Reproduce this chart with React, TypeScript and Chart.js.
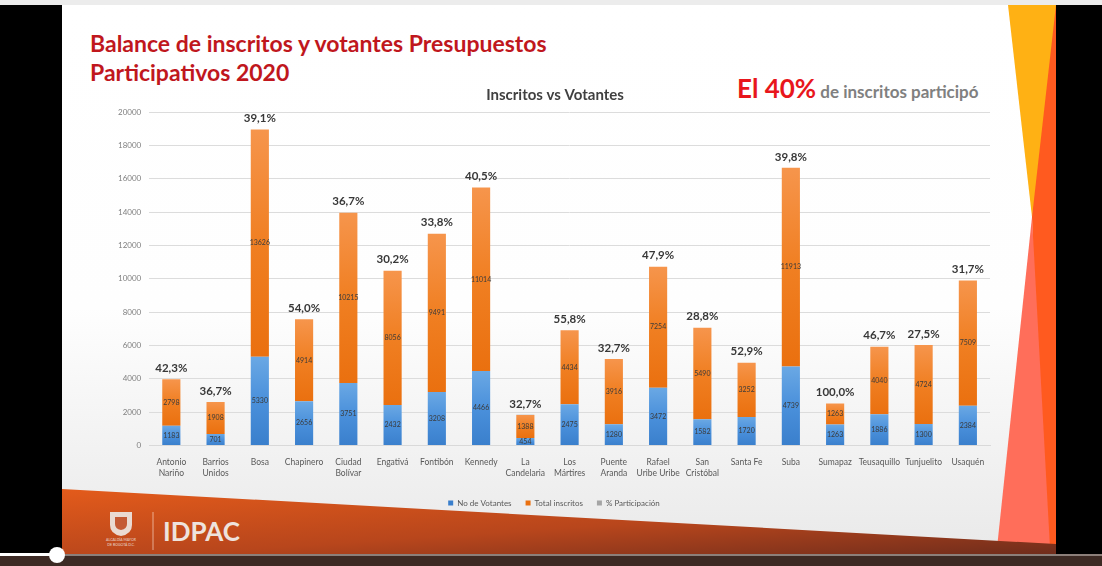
import React, { useEffect, useRef } from "react";
import { Chart, registerables } from "chart.js";

Chart.register(...registerables);

const localidades: string[][] = [
  ["Antonio", "Nariño"], ["Barrios", "Unidos"], ["Bosa"], ["Chapinero"], ["Ciudad", "Bolívar"],
  ["Engativá"], ["Fontibón"], ["Kennedy"], ["La", "Candelaria"], ["Los", "Mártires"],
  ["Puente", "Aranda"], ["Rafael", "Uribe Uribe"], ["San", "Cristóbal"], ["Santa Fe"], ["Suba"],
  ["Sumapaz"], ["Teusaquillo"], ["Tunjuelito"], ["Usaquén"],
];
const noDeVotantes = [1183, 701, 5330, 2656, 3751, 2432, 3208, 4466, 454, 2475, 1280, 3472, 1582, 1720, 4739, 1263, 1886, 1300, 2384];
const totalInscritos = [2798, 1908, 13626, 4914, 10215, 8056, 9491, 11014, 1388, 4434, 3916, 7254, 5490, 3252, 11913, 1263, 4040, 4724, 7509];
const participacion = [0.423, 0.367, 0.391, 0.54, 0.367, 0.302, 0.338, 0.405, 0.327, 0.558, 0.327, 0.479, 0.288, 0.529, 0.398, 1.0, 0.467, 0.275, 0.317];
const seriesNames = ["No de Votantes", "Total inscritos", "% Participación"];
const yMin = 0;
const yMax = 20000;
const yStep = 2000;

const FONT = "Lato, 'Open Sans', sans-serif";

const BLUE_TOP = "#6aa8e4";
const BLUE_BOT = "#3a7fcc";
const OR_TOP = "#f6954c";
const OR_BOT = "#ea700f";

function gradFor(datasetIndex: number, solid: string, top: string, bot: string) {
  return (c: any) => {
    const chart = c.chart;
    const y = chart.scales && chart.scales.y;
    if (!chart.chartArea || !y || c.dataIndex === undefined) return solid;
    const i = c.dataIndex;
    const base = datasetIndex === 0 ? 0 : noDeVotantes[i];
    const end = datasetIndex === 0 ? noDeVotantes[i] : noDeVotantes[i] + totalInscritos[i];
    const y0 = y.getPixelForValue(end);
    const y1 = y.getPixelForValue(base);
    if (!isFinite(y0) || !isFinite(y1) || y0 === y1) return solid;
    const g = chart.ctx.createLinearGradient(0, y0, 0, y1);
    g.addColorStop(0, top);
    g.addColorStop(0.5, solid);
    g.addColorStop(1, bot);
    return g;
  };
}

const labelsPlugin = {
  id: "valueLabels",
  afterLayout(chart: any) {
    if (chart.legend) {
      chart.legend.top += 3;
      chart.legend.bottom += 3;
      chart.legend.left += 4;
      chart.legend.right += 4;
    }
    if (chart.titleBlock) {
      chart.titleBlock.left += 5;
      chart.titleBlock.right += 5;
    }
  },
  afterDatasetsDraw(chart: any) {
    const ctx = chart.ctx;
    ctx.save();
    ctx.textAlign = "center";
    ctx.textBaseline = "middle";
    [0, 1].forEach((di) => {
      const meta = chart.getDatasetMeta(di);
      const values = chart.data.datasets[di].data;
      meta.data.forEach((el: any, i: number) => {
        ctx.font = `7px ${FONT}`;
        ctx.fillStyle = "#3b3b3b";
        ctx.fillText(String(values[i]), el.x, (el.y + el.base) / 2);
      });
    });
    const pm = chart.getDatasetMeta(2);
    pm.data.forEach((el: any, i: number) => {
      const v = participacion[i] * 100;
      ctx.font = `bold 11.5px ${FONT}`;
      ctx.fillStyle = "#383838";
      ctx.fillText(v.toFixed(1).replace(".", ",") + "%", el.x, el.y - 11);
    });
    ctx.restore();
  },
};

export default function App() {
  const ref = useRef<HTMLCanvasElement>(null);
  useEffect(() => {
    document.body.style.margin = "0";
    const canvas = ref.current as HTMLCanvasElement;
    Chart.defaults.font.family = FONT;
    const chart = new Chart(canvas, {
      type: "bar",
      data: {
        labels: localidades as any,
        datasets: [
          {
            label: seriesNames[0],
            data: noDeVotantes,
            backgroundColor: gradFor(0, "#4a90db", BLUE_TOP, BLUE_BOT) as any,
            stack: "s",
            barPercentage: 0.41,
            categoryPercentage: 1,
          },
          {
            label: seriesNames[1],
            data: totalInscritos,
            backgroundColor: gradFor(1, "#f07f22", OR_TOP, OR_BOT) as any,
            stack: "s",
            barPercentage: 0.41,
            categoryPercentage: 1,
          },
          {
            label: seriesNames[2],
            data: participacion,
            backgroundColor: "#a5a5a5",
            stack: "s",
            barPercentage: 0.41,
            categoryPercentage: 1,
          },
        ],
      },
      options: {
        responsive: false,
        animation: false,
        layout: { padding: { left: 10, right: 20, top: 0, bottom: 4 } },
        plugins: {
          title: {
            display: true,
            text: "Inscritos vs Votantes",
            color: "#404040",
            font: { size: 15, weight: "bold", family: FONT },
            padding: { top: 4, bottom: 8 },
          },
          legend: {
            position: "bottom",
            labels: {
              boxWidth: 5,
              boxHeight: 5,
              font: { size: 8, family: FONT },
              color: "#595959",
              padding: 14,
            },
          },
          tooltip: { enabled: false },
        },
        scales: {
          x: {
            stacked: true,
            grid: { display: false },
            border: { color: "#d9d9d9" },
            ticks: {
              font: { size: 8.5, family: FONT },
              color: "#595959",
              maxRotation: 0,
              autoSkip: false,
              padding: 4,
            },
          },
          y: {
            stacked: true,
            min: yMin,
            max: yMax,
            ticks: {
              stepSize: yStep,
              font: { size: 8, family: FONT },
              color: "#7f7f7f",
              padding: 8,
              callback: (v: any) => String(v),
            },
            grid: { color: "#dcdcdc", drawTicks: false },
            border: { display: false },
          },
        },
      },
      plugins: [labelsPlugin],
    } as any);
    return () => chart.destroy();
  }, []);

  return (
    <div style={{ position: "fixed", left: 0, top: 0, width: 1102, height: 566, background: "#000", overflow: "hidden", fontFamily: FONT }}>
      <div style={{ position: "absolute", left: 0, top: 0, width: 1102, height: 5, background: "#ececec" }} />
      <div
        style={{
          position: "absolute", left: 62, top: 5, width: 994, height: 550,
          background: "linear-gradient(to bottom, #ffffff 0%, #fefefe 55%, #e9e9e9 100%)",
        }}
      />
      <svg width={1102} height={566} style={{ position: "absolute", left: 0, top: 0 }}>
        <defs>
          <linearGradient id="band" x1="0" y1="0" x2="1" y2="1">
            <stop offset="0" stopColor="#e35b1b" />
            <stop offset="0.55" stopColor="#b8461c" />
            <stop offset="1" stopColor="#6e2c1c" />
          </linearGradient>
        </defs>
        <polygon points="1036,5 1056,5 1056,550 1042,550 1032,217" fill="#ff5a1f" />
        <polygon points="1008,5 1056,5 1032,217" fill="#ffb114" />
        <polygon points="1032,217 1050,548 997,548" fill="#ff6e5a" />
        <polygon points="62,489 1056,544 1056,555 62,555" fill="url(#band)" />
        <rect x={0} y={554} width={1102} height={12} fill="#3d2a24" />
        <rect x={57} y={554} width={1045} height={2} fill="#8c7f7a" />
        <rect x={0} y={553} width={57} height={3} fill="#ffffff" />
        <circle cx={57} cy={555} r={8} fill="#ffffff" />
        <line x1={153} y1={512} x2={153} y2={550} stroke="rgba(255,235,225,0.6)" strokeWidth={1} />
        <path d="M110,512 h22 v13 q0,9 -11,11 q-11,-2 -11,-11 z" fill="#eadad2" />
        <path d="M115,517 h12 v7 q0,5 -6,6 q-6,-1 -6,-6 z" fill="#c45a35" />
      </svg>
      <div style={{ position: "absolute", left: 100, top: 538, width: 42, fontSize: 3.5, lineHeight: "5px", color: "#eadad2", textAlign: "center" }}>
        ALCALDÍA MAYOR<br />DE BOGOTÁ D.C.
      </div>
      <div style={{ position: "absolute", left: 163, top: 516, fontSize: 26, fontWeight: 700, color: "#eee3dd", lineHeight: "30px" }}>
        IDPAC
      </div>
      <div style={{ position: "absolute", left: 90, top: 29, fontSize: 23, fontWeight: 700, color: "#c0171d", lineHeight: "29px", whiteSpace: "nowrap" }}>
        Balance de inscritos y votantes Presupuestos<br />Participativos 2020
      </div>
      <div style={{ position: "absolute", left: 737, top: 72, whiteSpace: "nowrap", lineHeight: "32px" }}>
        <span style={{ fontSize: 26, fontWeight: 700, color: "#e8161c" }}>El 40%</span>
        <span style={{ fontSize: 17, fontWeight: 700, color: "#808080" }}> de inscritos participó</span>
      </div>
      <canvas ref={ref} width={910} height={436} style={{ position: "absolute", left: 100, top: 82, width: 910, height: 436 }} />
    </div>
  );
}
